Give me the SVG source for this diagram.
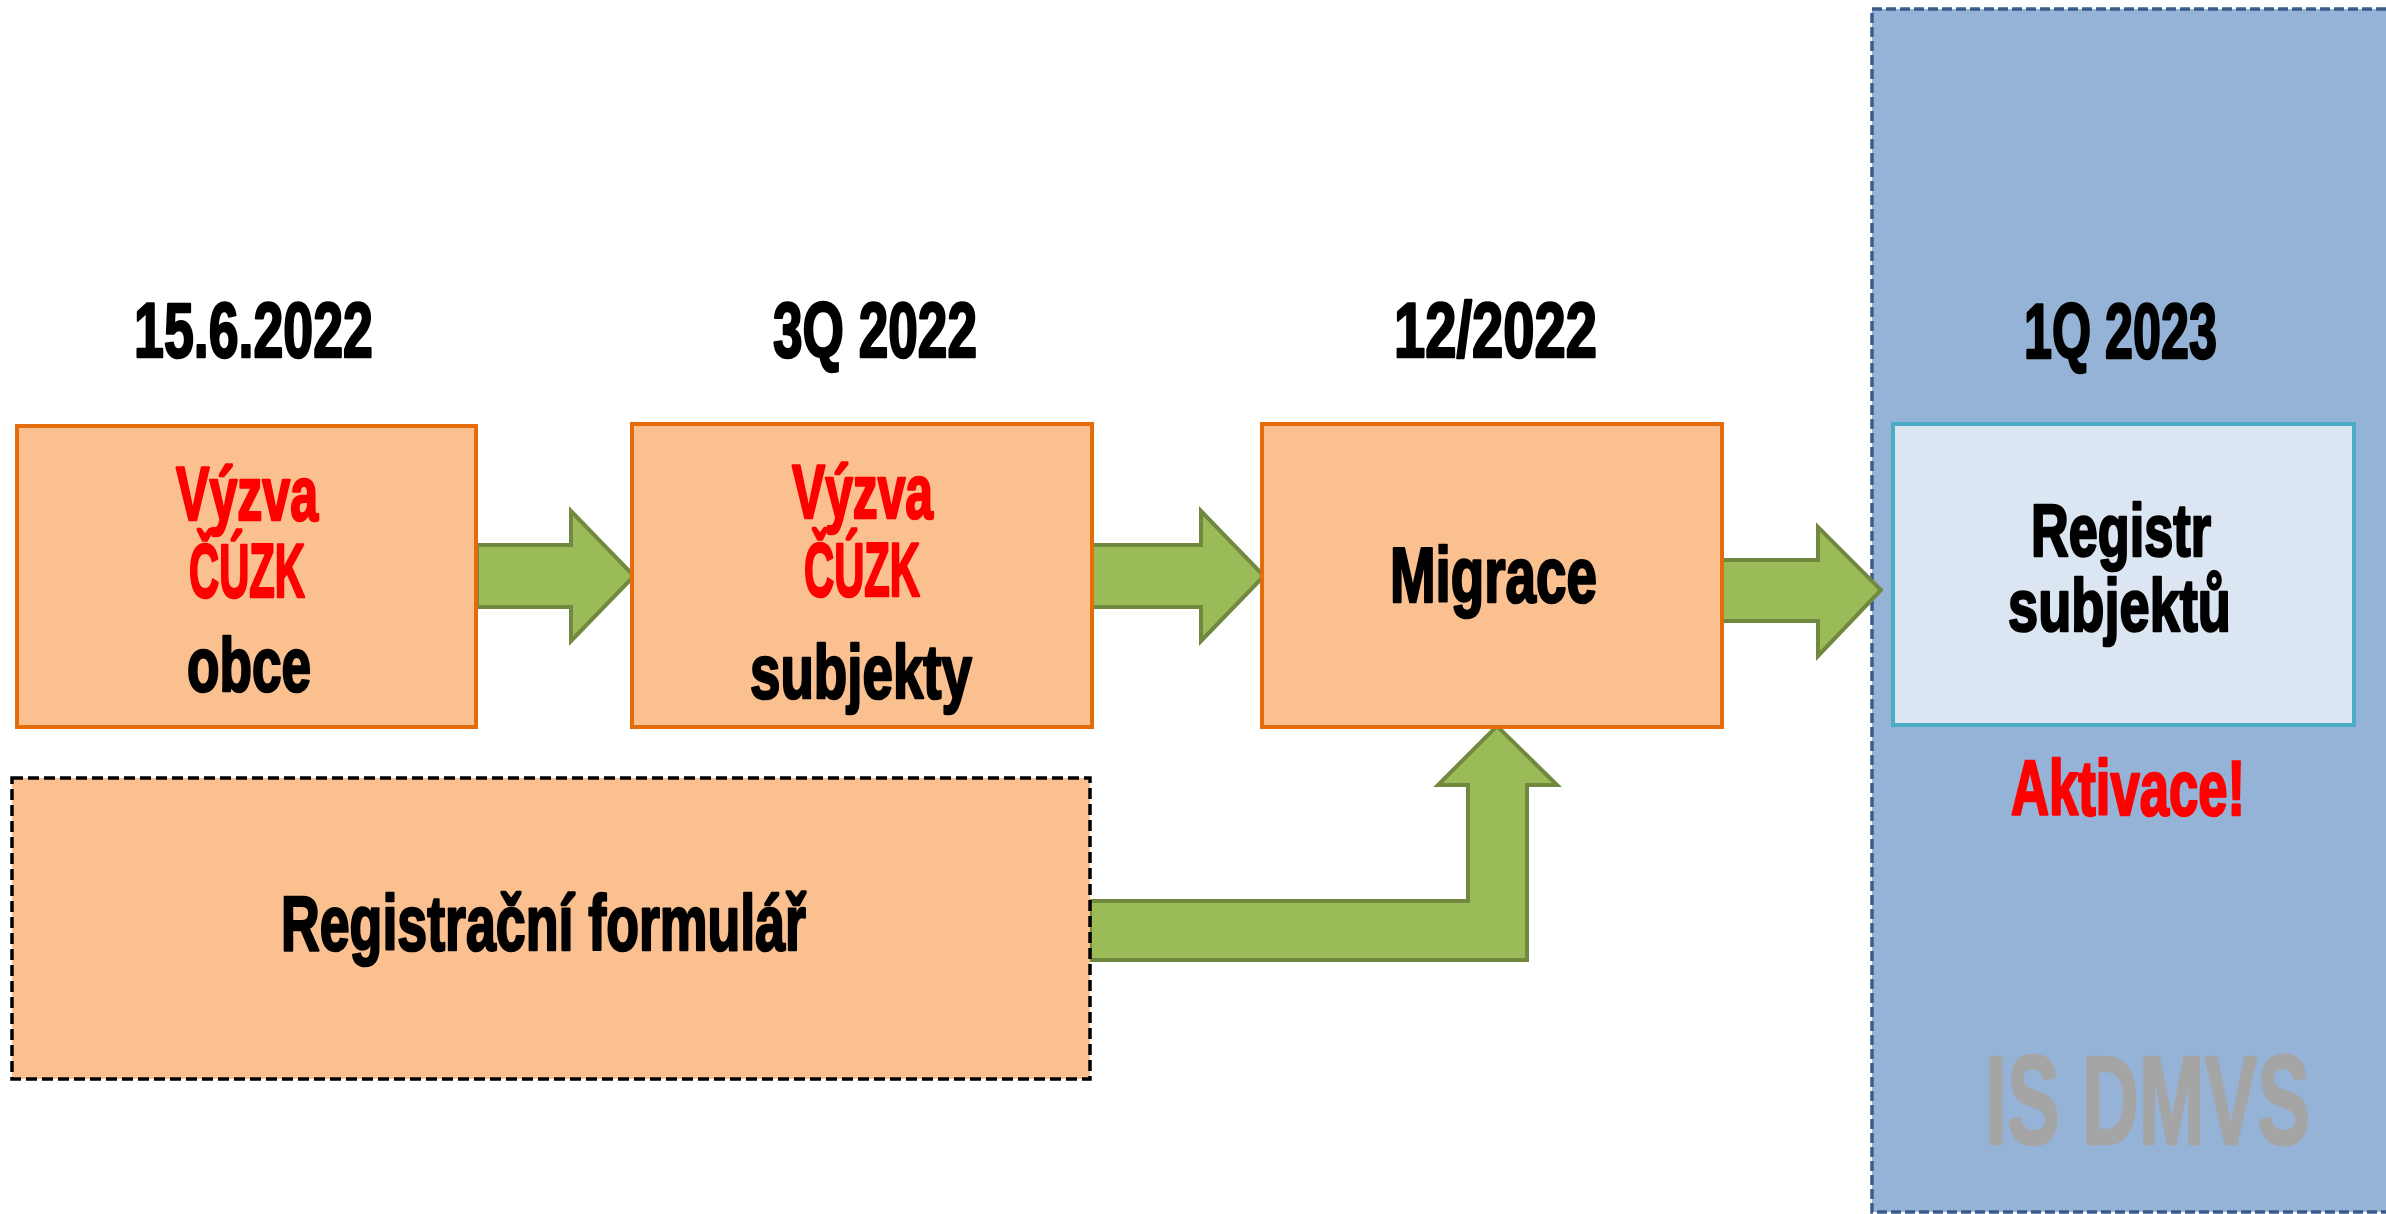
<svg xmlns="http://www.w3.org/2000/svg" width="2386" height="1214" viewBox="0 0 2386 1214">
<style>
.box{fill:#fac090;stroke:#e46c0a;stroke-width:4}
.arrow{fill:#9bbb59;stroke:#71893f;stroke-width:4;stroke-linejoin:miter}
.t{font-family:"Liberation Sans Narrow","Liberation Sans",Arial,sans-serif;font-weight:bold;stroke-width:2.6;stroke-linejoin:round}
.blk{fill:#000;stroke:#000}
.red{fill:#ff0000;stroke:#ff0000}
.gry{fill:#a5a5a5;stroke:#a5a5a5}
</style>
<rect width="2386" height="1214" fill="#ffffff"/>
<g id="is-dmvs">
<rect x="1872" y="9" width="540" height="1203" fill="#95b3d7" stroke="#385d8a" stroke-width="3.5" stroke-dasharray="10 4"/>
<text class="t gry" x="1985" y="1144" font-size="127" textLength="325" lengthAdjust="spacingAndGlyphs">IS DMVS</text>
</g>
<g id="connectors">
<polygon class="arrow" points="477,545 571,545 571,511 634,576 571,641 571,607 477,607"/>
<polygon class="arrow" points="1092,545 1201,545 1201,511 1264,576 1201,641 1201,607 1092,607"/>
<polygon class="arrow" points="1722,560 1818,560 1818,527 1881,590 1818,656 1818,621 1722,621"/>
<polygon class="arrow" points="1090,901 1468,901 1468,785 1438,785 1497,726 1557,785 1527,785 1527,960 1090,960"/>
</g>
<g id="dates">
<text class="t blk" x="134" y="357" font-size="78" textLength="239" lengthAdjust="spacingAndGlyphs">15.6.2022</text>
<text class="t blk" x="773" y="357" font-size="78" textLength="204" lengthAdjust="spacingAndGlyphs">3Q 2022</text>
<text class="t blk" x="1394" y="357" font-size="78" textLength="203" lengthAdjust="spacingAndGlyphs">12/2022</text>
<text class="t blk" x="2024" y="358" font-size="78" textLength="193" lengthAdjust="spacingAndGlyphs">1Q 2023</text>
</g>
<g id="vyzva-obce">
<rect class="box" x="17" y="426" width="459" height="301"/>
<text class="t red" x="176" y="520" font-size="76" textLength="142" lengthAdjust="spacingAndGlyphs">Výzva</text>
<text class="t red" x="189" y="597" font-size="76" textLength="116" lengthAdjust="spacingAndGlyphs">ČÚZK</text>
<text class="t blk" x="187" y="691" font-size="76" textLength="124" lengthAdjust="spacingAndGlyphs">obce</text>
</g>
<g id="vyzva-subjekty">
<rect class="box" x="632" y="424" width="460" height="303"/>
<text class="t red" x="792" y="518" font-size="76" textLength="141" lengthAdjust="spacingAndGlyphs">Výzva</text>
<text class="t red" x="804" y="596" font-size="76" textLength="116" lengthAdjust="spacingAndGlyphs">ČÚZK</text>
<text class="t blk" x="750" y="698" font-size="76" textLength="222" lengthAdjust="spacingAndGlyphs">subjekty</text>
</g>
<g id="migrace">
<rect class="box" x="1262" y="424" width="460" height="303"/>
<text class="t blk" x="1390" y="602" font-size="78" textLength="207" lengthAdjust="spacingAndGlyphs">Migrace</text>
</g>
<g id="registracni-formular">
<rect x="12" y="778" width="1078" height="301" fill="#fac090" stroke="#000" stroke-width="3.5" stroke-dasharray="11 5"/>
<text class="t blk" x="281" y="950" font-size="78" textLength="525" lengthAdjust="spacingAndGlyphs">Registrační formulář</text>
</g>
<g id="registr-subjektu">
<rect x="1893" y="424" width="461" height="301" fill="#dce6f2" stroke="#4bacc6" stroke-width="4"/>
<text class="t blk" x="2031" y="556" font-size="75" textLength="180" lengthAdjust="spacingAndGlyphs">Registr</text>
<text class="t blk" x="2008" y="631" font-size="75" textLength="223" lengthAdjust="spacingAndGlyphs">subjektů</text>
</g>
<g id="aktivace">
<text class="t red" x="2011" y="815" font-size="78" textLength="234" lengthAdjust="spacingAndGlyphs">Aktivace!</text>
</g>
</svg>
